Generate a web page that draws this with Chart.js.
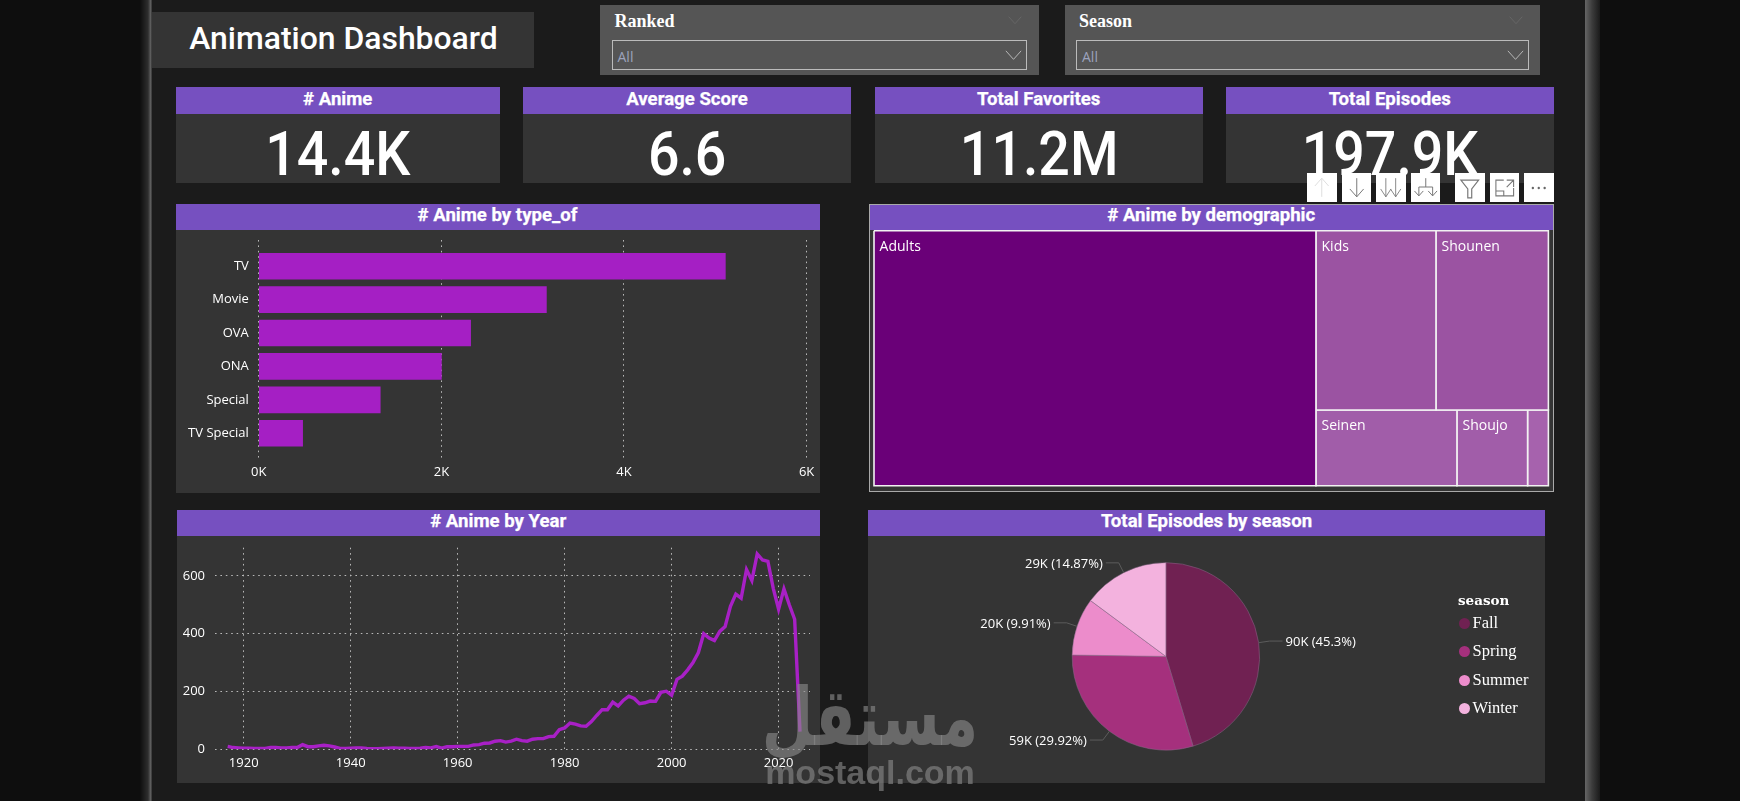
<!DOCTYPE html>
<html><head><meta charset="utf-8">
<script src="https://cdn.jsdelivr.net/npm/chart.js@4"></script>
<style>
html,body{margin:0;padding:0;width:1740px;height:801px;overflow:hidden;background:#0e0e0e;font-family:Roboto,sans-serif;color:#fff}
.b{position:absolute;box-sizing:border-box}
.head{background:#7650C0;font:700 18.6px Roboto;display:flex;align-items:center;justify-content:center;color:#fff;padding-bottom:4px;-webkit-text-stroke:.25px #fff}
.panel{background:#343434}
canvas{position:absolute;display:block}
.ic{position:absolute;background:#fff;top:173px;height:29px;z-index:5}
.ic svg{position:absolute;left:0;top:0;width:100%;height:100%}
</style></head><body>
<script>
// ---- data ----
const kpiLabels = ['# Anime','Average Score','Total Favorites','Total Episodes'];
const kpiValues = ['14.4K','6.6','11.2M','197.9K'];
const typeNames = ['TV','Movie','OVA','ONA','Special','TV Special'];
const typeCounts = [5110,3150,2320,2000,1330,480];
const typeTicks = [0,2000,4000,6000];
const demoNames = ['Adults','Kids','Shounen','Seinen','Shoujo',''];
const demoCounts = [9441,1803,1689,894,448,132];
const demoColors = ['#6A0078','#9B53A2','#9B53A2','#A15DA9','#A15DA9','#A662AD'];
const years = [1917,1918,1919,1920,1921,1922,1923,1924,1925,1926,1927,1928,1929,1930,1931,1932,1933,1934,1935,1936,1937,1938,1939,1940,1941,1942,1943,1944,1945,1946,1947,1948,1949,1950,1951,1952,1953,1954,1955,1956,1957,1958,1959,1960,1961,1962,1963,1964,1965,1966,1967,1968,1969,1970,1971,1972,1973,1974,1975,1976,1977,1978,1979,1980,1981,1982,1983,1984,1985,1986,1987,1988,1989,1990,1991,1992,1993,1994,1995,1996,1997,1998,1999,2000,2001,2002,2003,2004,2005,2006,2007,2008,2009,2010,2011,2012,2013,2014,2015,2016,2017,2018,2019,2020,2021,2022,2023,2024];
const yearCounts = [10,6,5,4,4,3,3,3,6,6,5,5,6,6,16,9,9,12,14,12,8,3,3,4,5,5,3,2,2,3,4,5,4,4,3,3,4,6,5,10,4,9,9,10,10,10,15,16,21,22,28,30,25,28,35,30,28,35,37,37,44,45,68,74,91,87,81,80,96,117,137,137,163,150,170,184,176,158,161,167,166,197,201,187,242,253,275,300,335,400,385,376,408,425,495,537,523,622,584,676,655,650,557,485,555,500,450,61];
const yearTicks = [1920,1940,1960,1980,2000,2020];
const countTicks = [0,200,400,600];
const seasons = ['Fall','Spring','Summer','Winter'];
const episodes = [89700,59200,19600,29400];
const episodeLabels = ['90K (45.3%)','59K (29.92%)','20K (9.91%)','29K (14.87%)'];
const seasonColors = ['#702152','#A5307D','#EC8CCB','#F3B2DE'];

// ---- page scaffold ----
const FONT_UI = '"Open Sans",sans-serif';
function box(x0,y0,x1,y1,css,cls,html){
  const d=document.createElement('div');d.className='b '+(cls||'');
  d.style.cssText=`left:${x0}px;top:${y0}px;width:${x1-x0}px;height:${y1-y0}px;`+(css||'');
  if(html!==undefined)d.innerHTML=html;document.body.appendChild(d);return d;
}
function canvasAt(x,y,w,h){
  const c=document.createElement('canvas');c.width=w;c.height=h;
  c.style.left=x+'px';c.style.top=y+'px';c.style.width=w+'px';c.style.height=h+'px';
  document.body.appendChild(c);return c;
}
box(140,0,1600,801,'background:linear-gradient(90deg,#0e0e0e 0,#1e1e1e 4px,#2e2e2e 8px,#666 11px,#1b1b1b 12px,#1b1b1b 1445px,#666 1445px,#3c3c3c 1452px,#1a1a1a 1460px)');

box(152,12,534,68,'background:#343434');
box(152,12,534,68,'font:500 31.9px Roboto;display:flex;align-items:center;justify-content:center;padding-bottom:5px;padding-left:1px;color:#fff','', 'Animation Dashboard');

const chev=(c,w)=>`<svg viewBox="0 0 20 12" width="${w}" height="${w*.6}" style="display:block"><path d="M1 1 L10 11 L19 1" fill="none" stroke="${c}" stroke-width="1"/></svg>`;
[['Ranked',600,1039,611.5,1027],['Season',1064.5,1540,1076,1529]].forEach(([n,a,b,c,d])=>{
  box(a,5,b,75,'background:#555;');
  box(c-1,7,c+120,35,'font:700 18px/28px "Liberation Serif",serif;color:#fff;padding-left:4px','',n);
  box(b-31,16,b-15,28,'',"",chev('#6d6d6d',14));
  box(c,40,d,70,'border:1.5px solid #bbb;font:400 14px/31px '+FONT_UI+';color:#9ca3bd;padding-left:5px','','All');
  box(d-22,50,d-2,64,'','',chev('#c9c9c9',17));
});

[[175.5,500],[523,851],[874.5,1203],[1225.5,1554]].forEach(([a,b],i)=>{
  box(a,87,b,114,'','head',kpiLabels[i]);
  box(a,114,b,183,'','panel');
  box(a,115,b,184,'font:500 61px/79px Roboto;text-align:center;color:#fff','',`<span style="display:inline-block;transform:scaleX(.91)">${kpiValues[i]}</span>`);
});

// icons
const arrow=(x,c)=>`<path d="M${x} 5 V24 M${x-7} 16 L${x} 24 L${x+7} 16" fill="none" stroke="${c}" stroke-width="1"/>`;
const icons=[
 [1307,`<path d="M15 24 V5 M8 13 L15 5 L22 13" fill="none" stroke="#ddd" stroke-width="1"/>`],
 [1341.5,arrow(15,'#777')],
 [1376,`<g transform="translate(10 0) scale(.75 1) translate(-10 0)">${arrow(10,'#777')}</g><g transform="translate(20 0) scale(.75 1) translate(-20 0)">${arrow(20,'#777')}</g>`],
 [1410.5,`<path d="M15 5 V14 M8 23 V14 H22 V23 M3.5 18 L8 23 L12.5 18 M17.5 18 L22 23 L26.5 18" fill="none" stroke="#777" stroke-width="1"/>`],
 [1455,`<path d="M6 7 H24 L17 16 V25 H13 V16 Z" fill="none" stroke="#777" stroke-width="1.2"/>`],
 [1489.5,`<path d="M6 14 V23 H24 V15 M6 18 H14 V23 M6 14 V7 H14 M17 7 H24 V14 M17 14 L24 7" fill="none" stroke="#777" stroke-width="1.1"/>`],
 [1524,`<circle cx="9" cy="15" r="1.2" fill="#666"/><circle cx="15" cy="15" r="1.2" fill="#666"/><circle cx="21" cy="15" r="1.2" fill="#666"/>`]
];
icons.forEach(([x,p])=>{const d=document.createElement('div');d.className='ic';d.style.left=x+'px';d.style.width='29.5px';
 d.innerHTML=`<svg viewBox="0 0 30 29">${p}</svg>`;document.body.appendChild(d);});

// panels
box(175.5,204,819.5,230,'','head','# Anime by type_of');
box(175.5,230,819.5,493,'','panel');
box(177,510,819.5,536,'','head','# Anime by Year');
box(177,536,819.5,783,'','panel');
box(868.5,203.5,1554,492,'background:#343434;border:1px solid #a9a9a9');
box(869.5,204.5,1553,230,'','head','# Anime by demographic');
box(868,509.5,1545,536,'','head','Total Episodes by season');
box(868,536,1545,783,'','panel');

// ---- charts ----
Chart.defaults.animation=false;
Chart.defaults.responsive=false;
Chart.defaults.devicePixelRatio=1;
Chart.defaults.plugins.legend.display=false;
Chart.defaults.plugins.tooltip.enabled=false;
const GRID={color:'#b8b8b8',lineWidth:1,drawTicks:false,tickLength:0};
const DOTS=[1.6,3.8];
const fix=(prop,val)=>s=>{s[prop]=val;s.paddingLeft=s.paddingRight=s.paddingTop=s.paddingBottom=0;};
const tickFont={family:'"Open Sans",sans-serif',size:13};

new Chart(canvasAt(176,230,643,263),{
  type:'bar',
  data:{datasets:[{data:typeCounts.map((v,i)=>({x:v,y:i})),backgroundColor:'#A51FC4',barThickness:26,borderWidth:0}]},
  options:{indexAxis:'y',layout:{padding:{top:10,right:12.4}},
    scales:{
      x:{type:'linear',min:0,max:6000,afterBuildTicks:s=>{s.ticks=typeTicks.map(value=>({value}))},afterFit:fix('height',33),
         grid:{...GRID},border:{display:false,dash:DOTS},
         ticks:{color:'#fff',font:tickFont,padding:4,maxRotation:0,callback:v=>(v/1000)+'K'}},
      y:{type:'linear',reverse:true,offset:false,min:-0.785,max:5.80,afterBuildTicks:s=>{s.ticks=typeNames.map((n,value)=>({value}))},afterFit:fix('width',82.8),
         grid:{display:false,drawTicks:false,tickLength:0,offset:false},border:{display:false},
         ticks:{color:'#fff',font:tickFont,padding:10,callback:v=>typeNames[v]}}
    }}
});

new Chart(canvasAt(177,536,642,247),{
  type:'line',
  data:{datasets:[{data:years.map((x,i)=>({x,y:yearCounts[i]})),borderColor:'#A820C6',borderWidth:3.4,pointRadius:0,tension:0,borderJoinStyle:'miter'}]},
  options:{layout:{padding:{top:11.7,right:9}},
    scales:{
      x:{type:'linear',min:1914.63,max:2025.87,afterBuildTicks:s=>{s.ticks=yearTicks.map(value=>({value}))},afterFit:fix('height',33.7),
         grid:{...GRID},border:{display:false,dash:DOTS},
         ticks:{color:'#fff',font:tickFont,padding:6,maxRotation:0,callback:v=>String(v)}},
      y:{type:'linear',min:0,max:697.6,afterBuildTicks:s=>{s.ticks=countTicks.map(value=>({value}))},afterFit:fix('width',38),
         grid:{...GRID},border:{display:false,dash:DOTS},
         ticks:{color:'#fff',font:tickFont,padding:10,callback:v=>String(v)}}
    }}
});

// treemap: each cell is a closed filled shape on the chart's linear scales, laid out from demoCounts
const demoTotal=demoCounts.reduce((a,b)=>a+b,0);
function treemapCells(){
  const rest=demoTotal-demoCounts[0], x1=demoCounts[0]/demoTotal;
  const topSum=demoCounts[1]+demoCounts[2], split=topSum/rest;
  const cells=[[0,0,x1,1]];
  let x=x1;
  [1,2].forEach(i=>{const w=(demoCounts[i]/topSum)*(1-x1);cells.push([x,0,x+w,split]);x+=w;});
  const botSum=rest-topSum; x=x1;
  [3,4,5].forEach(i=>{const w=(demoCounts[i]/botSum)*(1-x1);cells.push([x,split,x+w,1]);x+=w;});
  return cells;
}
const cells=treemapCells();
new Chart(canvasAt(872,229,678,259),{
  type:'scatter',
  data:{datasets:cells.map(([a,b,c,d],i)=>({
    data:[{x:a,y:b},{x:c,y:b},{x:c,y:d},{x:a,y:d},{x:a,y:b}],
    showLine:true,fill:'shape',tension:0,pointRadius:0,backgroundColor:demoColors[i],borderColor:'#f2f2f2',borderWidth:1.6,clip:false
  }))},
  options:{layout:{padding:{left:2,right:1.6,top:1.7,bottom:2.3}},
    scales:{x:{type:'linear',min:0,max:1,display:false},y:{type:'linear',min:0,max:1,reverse:true,display:false}}},
  plugins:[{id:'cellLabels',afterDatasetsDraw(ch){
    const c=ch.ctx;c.save();c.fillStyle='#fff';c.font='14px "Open Sans",sans-serif';c.textBaseline='middle';c.textAlign='left';
    cells.forEach(([a,b],i)=>{if(demoNames[i])c.fillText(demoNames[i],ch.scales.x.getPixelForValue(a)+5.6,ch.scales.y.getPixelForValue(b)+16);});
    c.restore();
  }}]
});

new Chart(canvasAt(868,536,677,247),{
  type:'pie',
  data:{labels:seasons,datasets:[{data:episodes,backgroundColor:seasonColors,borderWidth:0.5,borderColor:'#8a6a8a'}]},
  options:{layout:{padding:{left:203.8,right:285,top:26.4,bottom:32.6}}},
  plugins:[{id:'leaderLabels',afterDatasetsDraw(ch){
    const c=ch.ctx;c.save();c.font='13px "Open Sans",sans-serif';c.textBaseline='middle';
    ch.getDatasetMeta(0).data.forEach((a,i)=>{
      const m=(a.startAngle+a.endAngle)/2,R=a.outerRadius,cx=a.x,cy=a.y;
      const right=Math.cos(m)>0,dir=right?1:-1;
      const px=cx+Math.cos(m)*R,py=cy+Math.sin(m)*R;
      const ex=cx+Math.cos(m)*(R+11),ey=cy+Math.sin(m)*(R+11);
      const tx=ex+dir*13;
      c.strokeStyle='#5c5c5c';c.lineWidth=1;c.beginPath();c.moveTo(px,py);c.lineTo(ex,ey);c.lineTo(tx,ey);c.stroke();
      c.fillStyle='#fff';c.textAlign=right?'left':'right';c.fillText(episodeLabels[i],tx+dir*3,ey+1.5);
    });
    c.restore();
  }}]
});

// legend
box(1458,590,1540,612,'font:700 13.5px/20px "DejaVu Serif",serif;color:#fff','','season');
seasons.forEach((s,i)=>{
  const y=622.7+i*28.4;
  box(1458.5,y-5,1469.5,y+6,`border-radius:50%;background:${seasonColors[i]}`);
  box(1472.5,y-10,1545,y+10,'font:400 16.5px/20px "Liberation Serif",serif;color:#fff','',s);
});

// watermark
box(620,676,1120,760,'z-index:8;font:700 80px/84px "DejaVu Sans",sans-serif;color:rgba(139,139,139,.62);text-align:center;transform:scaleX(.74);direction:rtl','','مستقل');
box(758,752,982,792,'z-index:8;font:700 34px/40px "Liberation Sans",sans-serif;color:rgba(139,139,139,.62);text-align:center','','mostaql.com');
</script>
</body></html>
